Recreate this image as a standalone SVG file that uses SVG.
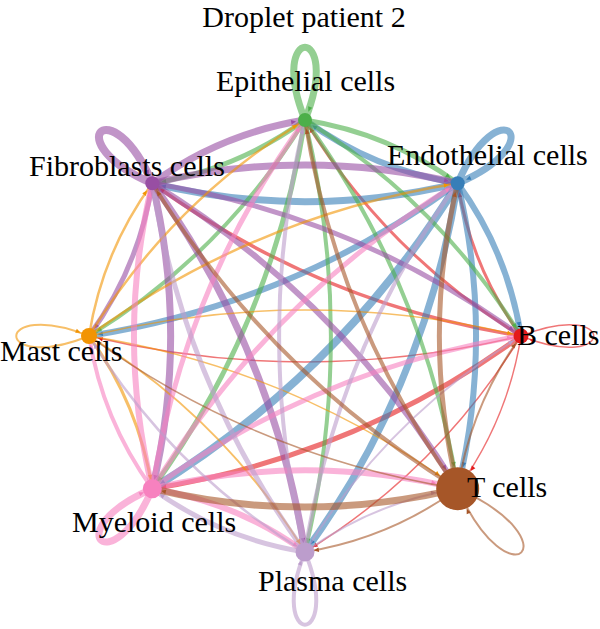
<svg xmlns="http://www.w3.org/2000/svg" width="600" height="629" viewBox="0 0 600 629">
<style>
.e{fill:none;stroke-opacity:0.6;stroke-linecap:butt}
.cB{stroke:#E41A1C}.cEn{stroke:#377EB8}.cEp{stroke:#4DAF4A}.cF{stroke:#984EA3}
.cMa{stroke:#F29403}.cMy{stroke:#F781BF}.cP{stroke:#BC9DCC}.cT{stroke:#A65628}
.lbl{font-family:"Liberation Serif","Times New Roman",serif;font-size:30px;fill:#000}
</style>
<defs>
<marker id="aB" markerUnits="userSpaceOnUse" refX="9" refY="0" orient="auto" overflow="visible"><path d="M0,0L-5,-2.2L-5,2.2Z" fill="#E41A1C"/></marker>
<marker id="aBt" markerUnits="userSpaceOnUse" refX="22" refY="0" orient="auto" overflow="visible"><path d="M0,0L-5,-2.2L-5,2.2Z" fill="#E41A1C"/></marker>
<marker id="aEn" markerUnits="userSpaceOnUse" refX="9" refY="0" orient="auto" overflow="visible"><path d="M0,0L-5,-2.2L-5,2.2Z" fill="#377EB8"/></marker>
<marker id="aEnt" markerUnits="userSpaceOnUse" refX="22" refY="0" orient="auto" overflow="visible"><path d="M0,0L-5,-2.2L-5,2.2Z" fill="#377EB8"/></marker>
<marker id="aEp" markerUnits="userSpaceOnUse" refX="9" refY="0" orient="auto" overflow="visible"><path d="M0,0L-5,-2.2L-5,2.2Z" fill="#4DAF4A"/></marker>
<marker id="aEpt" markerUnits="userSpaceOnUse" refX="22" refY="0" orient="auto" overflow="visible"><path d="M0,0L-5,-2.2L-5,2.2Z" fill="#4DAF4A"/></marker>
<marker id="aF" markerUnits="userSpaceOnUse" refX="9" refY="0" orient="auto" overflow="visible"><path d="M0,0L-5,-2.2L-5,2.2Z" fill="#984EA3"/></marker>
<marker id="aFt" markerUnits="userSpaceOnUse" refX="22" refY="0" orient="auto" overflow="visible"><path d="M0,0L-5,-2.2L-5,2.2Z" fill="#984EA3"/></marker>
<marker id="aMa" markerUnits="userSpaceOnUse" refX="9" refY="0" orient="auto" overflow="visible"><path d="M0,0L-5,-2.2L-5,2.2Z" fill="#F29403"/></marker>
<marker id="aMat" markerUnits="userSpaceOnUse" refX="22" refY="0" orient="auto" overflow="visible"><path d="M0,0L-5,-2.2L-5,2.2Z" fill="#F29403"/></marker>
<marker id="aMy" markerUnits="userSpaceOnUse" refX="9" refY="0" orient="auto" overflow="visible"><path d="M0,0L-5,-2.2L-5,2.2Z" fill="#F781BF"/></marker>
<marker id="aMyt" markerUnits="userSpaceOnUse" refX="22" refY="0" orient="auto" overflow="visible"><path d="M0,0L-5,-2.2L-5,2.2Z" fill="#F781BF"/></marker>
<marker id="aP" markerUnits="userSpaceOnUse" refX="9" refY="0" orient="auto" overflow="visible"><path d="M0,0L-5,-2.2L-5,2.2Z" fill="#BC9DCC"/></marker>
<marker id="aPt" markerUnits="userSpaceOnUse" refX="22" refY="0" orient="auto" overflow="visible"><path d="M0,0L-5,-2.2L-5,2.2Z" fill="#BC9DCC"/></marker>
<marker id="aT" markerUnits="userSpaceOnUse" refX="9" refY="0" orient="auto" overflow="visible"><path d="M0,0L-5,-2.2L-5,2.2Z" fill="#A65628"/></marker>
<marker id="aTt" markerUnits="userSpaceOnUse" refX="22" refY="0" orient="auto" overflow="visible"><path d="M0,0L-5,-2.2L-5,2.2Z" fill="#A65628"/></marker>
</defs>
<rect width="600" height="629" fill="#fff"/>
<g id="edges">
<!-- B cells -->
<g transform="translate(521,336)" class="cB">
<path class="e" marker-end="url(#aB)" stroke-width="3" transform="rotate(-112.5)" d="M0,0Q82.6,-19.8 165.3,0"/>
<path class="e" marker-end="url(#aB)" stroke-width="3" transform="rotate(-135)" d="M0,0Q152.7,-36.7 305.5,0"/>
<path class="e" marker-end="url(#aB)" stroke-width="3.5" transform="rotate(-157.5)" d="M0,0Q199.5,-47.9 399.1,0"/>
<path class="e" marker-end="url(#aB)" stroke-width="1.5" transform="rotate(-180)" d="M0,0Q216,-51.8 432,0"/>
<path class="e" marker-end="url(#aB)" stroke-width="5" transform="rotate(-202.5)" d="M0,0Q199.5,-47.9 399.1,0"/>
<path class="e" marker-end="url(#aB)" stroke-width="1.5" transform="rotate(-225)" d="M0,0Q152.7,-36.7 305.5,0"/>
<path class="e" marker-end="url(#aBt)" stroke-width="1.5" transform="rotate(-247.5)" d="M0,0Q82.6,-19.8 165.3,0"/>
<path class="e" marker-end="url(#aB)" stroke-width="1.5" d="M0,0C97,-39 97,39 0,0"/>
</g>
<!-- Endothelial -->
<g transform="translate(457.7,183.3)" class="cEn">
<path class="e" marker-end="url(#aEn)" stroke-width="6" transform="rotate(-292.5)" d="M0,0Q82.6,-19.8 165.3,0"/>
<path class="e" marker-end="url(#aEn)" stroke-width="6" transform="rotate(-157.5)" d="M0,0Q82.6,-19.8 165.3,0"/>
<path class="e" marker-end="url(#aEn)" stroke-width="7" transform="rotate(-180)" d="M0,0Q152.7,-36.7 305.5,0"/>
<path class="e" marker-end="url(#aEn)" stroke-width="6" transform="rotate(-202.5)" d="M0,0Q199.5,-47.9 399.1,0"/>
<path class="e" marker-end="url(#aEn)" stroke-width="8" transform="rotate(-225)" d="M0,0Q216,-51.8 432,0"/>
<path class="e" marker-end="url(#aEn)" stroke-width="7" transform="rotate(-247.5)" d="M0,0Q199.5,-47.9 399.1,0"/>
<path class="e" marker-end="url(#aEnt)" stroke-width="6" transform="rotate(-270)" d="M0,0Q152.7,-36.7 305.5,0"/>
<path class="e" marker-end="url(#aEn)" stroke-width="7" transform="rotate(-45)" d="M0,0C97,-39 97,39 0,0"/>
</g>
<!-- Epithelial -->
<g transform="translate(305,120)" class="cEp">
<path class="e" marker-end="url(#aEp)" stroke-width="4" transform="rotate(-315)" d="M0,0Q152.7,-36.7 305.5,0"/>
<path class="e" marker-end="url(#aEp)" stroke-width="5" transform="rotate(-337.5)" d="M0,0Q82.6,-19.8 165.3,0"/>
<path class="e" marker-end="url(#aEp)" stroke-width="5" transform="rotate(-202.5)" d="M0,0Q82.6,-19.8 165.3,0"/>
<path class="e" marker-end="url(#aEp)" stroke-width="4" transform="rotate(-225)" d="M0,0Q152.7,-36.7 305.5,0"/>
<path class="e" marker-end="url(#aEp)" stroke-width="5" transform="rotate(-247.5)" d="M0,0Q199.5,-47.9 399.1,0"/>
<path class="e" marker-end="url(#aEp)" stroke-width="4" transform="rotate(-270)" d="M0,0Q216,-51.8 432,0"/>
<path class="e" marker-end="url(#aEpt)" stroke-width="4" transform="rotate(-292.5)" d="M0,0Q199.5,-47.9 399.1,0"/>
<path class="e" marker-end="url(#aEp)" stroke-width="7" transform="rotate(-90)" d="M0,0C97,-39 97,39 0,0"/>
</g>
<!-- Fibroblasts -->
<g transform="translate(152.3,183.3)" class="cF">
<path class="e" marker-end="url(#aF)" stroke-width="5" transform="rotate(-337.5)" d="M0,0Q199.5,-47.9 399.1,0"/>
<path class="e" marker-end="url(#aF)" stroke-width="7" d="M0,0Q152.7,-36.7 305.5,0"/>
<path class="e" marker-end="url(#aF)" stroke-width="7" transform="rotate(-22.5)" d="M0,0Q82.6,-19.8 165.3,0"/>
<path class="e" marker-end="url(#aF)" stroke-width="5" transform="rotate(-247.5)" d="M0,0Q82.6,-19.8 165.3,0"/>
<path class="e" marker-end="url(#aF)" stroke-width="7" transform="rotate(-270)" d="M0,0Q152.7,-36.7 305.5,0"/>
<path class="e" marker-end="url(#aF)" stroke-width="7" transform="rotate(-292.5)" d="M0,0Q199.5,-47.9 399.1,0"/>
<path class="e" marker-end="url(#aFt)" stroke-width="6" transform="rotate(-315)" d="M0,0Q216,-51.8 432,0"/>
<path class="e" marker-end="url(#aF)" stroke-width="8" transform="rotate(-135)" d="M0,0C97,-39 97,39 0,0"/>
</g>
<!-- Mast -->
<g transform="translate(89,336)" class="cMa">
<path class="e" marker-end="url(#aMa)" stroke-width="1.5" d="M0,0Q216,-51.8 432,0"/>
<path class="e" marker-end="url(#aMa)" stroke-width="2.5" transform="rotate(-22.5)" d="M0,0Q199.5,-47.9 399.1,0"/>
<path class="e" marker-end="url(#aMa)" stroke-width="2.5" transform="rotate(-45)" d="M0,0Q152.7,-36.7 305.5,0"/>
<path class="e" marker-end="url(#aMa)" stroke-width="2.5" transform="rotate(-67.5)" d="M0,0Q82.6,-19.8 165.3,0"/>
<path class="e" marker-end="url(#aMa)" stroke-width="3" transform="rotate(-292.5)" d="M0,0Q82.6,-19.8 165.3,0"/>
<path class="e" marker-end="url(#aMa)" stroke-width="2" transform="rotate(-315)" d="M0,0Q152.7,-36.7 305.5,0"/>
<path class="e" marker-end="url(#aMat)" stroke-width="1.5" transform="rotate(-337.5)" d="M0,0Q199.5,-47.9 399.1,0"/>
<path class="e" marker-end="url(#aMa)" stroke-width="2" transform="rotate(-180)" d="M0,0C97,-39 97,39 0,0"/>
</g>
<!-- Myeloid -->
<g transform="translate(152.3,488.7)" class="cMy">
<path class="e" marker-end="url(#aMy)" stroke-width="5" transform="rotate(-22.5)" d="M0,0Q199.5,-47.9 399.1,0"/>
<path class="e" marker-end="url(#aMy)" stroke-width="5" transform="rotate(-45)" d="M0,0Q216,-51.8 432,0"/>
<path class="e" marker-end="url(#aMy)" stroke-width="5" transform="rotate(-67.5)" d="M0,0Q199.5,-47.9 399.1,0"/>
<path class="e" marker-end="url(#aMy)" stroke-width="6" transform="rotate(-90)" d="M0,0Q152.7,-36.7 305.5,0"/>
<path class="e" marker-end="url(#aMy)" stroke-width="4" transform="rotate(-112.5)" d="M0,0Q82.6,-19.8 165.3,0"/>
<path class="e" marker-end="url(#aMy)" stroke-width="6" transform="rotate(-337.5)" d="M0,0Q82.6,-19.8 165.3,0"/>
<path class="e" marker-end="url(#aMyt)" stroke-width="6" d="M0,0Q152.7,-36.7 305.5,0"/>
<path class="e" marker-end="url(#aMy)" stroke-width="7" transform="rotate(-225)" d="M0,0C97,-39 97,39 0,0"/>
</g>
<!-- Plasma -->
<g transform="translate(305,552)" class="cP">
<path class="e" marker-end="url(#aP)" stroke-width="2" transform="rotate(-45)" d="M0,0Q152.7,-36.7 305.5,0"/>
<path class="e" marker-end="url(#aP)" stroke-width="4" transform="rotate(-67.5)" d="M0,0Q199.5,-47.9 399.1,0"/>
<path class="e" marker-end="url(#aP)" stroke-width="4" transform="rotate(-90)" d="M0,0Q216,-51.8 432,0"/>
<path class="e" marker-end="url(#aP)" stroke-width="5" transform="rotate(-112.5)" d="M0,0Q199.5,-47.9 399.1,0"/>
<path class="e" marker-end="url(#aP)" stroke-width="2.5" transform="rotate(-135)" d="M0,0Q152.7,-36.7 305.5,0"/>
<path class="e" marker-end="url(#aP)" stroke-width="5" transform="rotate(-157.5)" d="M0,0Q82.6,-19.8 165.3,0"/>
<path class="e" marker-end="url(#aPt)" stroke-width="2" transform="rotate(-22.5)" d="M0,0Q82.6,-19.8 165.3,0"/>
<path class="e" marker-end="url(#aP)" stroke-width="4" transform="rotate(-270)" d="M0,0C97,-39 97,39 0,0"/>
</g>
<!-- T cells -->
<g transform="translate(457.7,488.7)" class="cT">
<path class="e" marker-end="url(#aT)" stroke-width="2" transform="rotate(-67.5)" d="M0,0Q82.6,-19.8 165.3,0"/>
<path class="e" marker-end="url(#aT)" stroke-width="5" transform="rotate(-90)" d="M0,0Q152.7,-36.7 305.5,0"/>
<path class="e" marker-end="url(#aT)" stroke-width="4" transform="rotate(-112.5)" d="M0,0Q199.5,-47.9 399.1,0"/>
<path class="e" marker-end="url(#aT)" stroke-width="4" transform="rotate(-135)" d="M0,0Q216,-51.8 432,0"/>
<path class="e" marker-end="url(#aT)" stroke-width="1.5" transform="rotate(-157.5)" d="M0,0Q199.5,-47.9 399.1,0"/>
<path class="e" marker-end="url(#aT)" stroke-width="7" transform="rotate(-180)" d="M0,0Q152.7,-36.7 305.5,0"/>
<path class="e" marker-end="url(#aT)" stroke-width="2" transform="rotate(-202.5)" d="M0,0Q82.6,-19.8 165.3,0"/>
<path class="e" marker-end="url(#aTt)" stroke-width="2" transform="rotate(45)" d="M0,0C120,-46 120,46 0,0"/>
</g>
</g>
<g id="node-b"><circle cx="521" cy="336" r="7.5" fill="#E41A1C"/><text class="lbl" x="517" y="345">B cells</text></g>
<g id="node-endothelial"><circle cx="457.7" cy="183.3" r="7" fill="#377EB8"/><text class="lbl" x="387" y="165">Endothelial cells</text></g>
<g id="node-epithelial"><circle cx="305" cy="120" r="7" fill="#4DAF4A"/><text class="lbl" x="216" y="91">Epithelial cells</text></g>
<g id="node-fibroblasts"><circle cx="152.3" cy="183.3" r="7" fill="#984EA3"/><text class="lbl" x="29" y="176">Fibroblasts cells</text></g>
<g id="node-mast"><circle cx="89" cy="336" r="8" fill="#F29403"/><text class="lbl" x="0" y="361">Mast cells</text></g>
<g id="node-myeloid"><circle cx="152.3" cy="488.7" r="9.5" fill="#F781BF"/><text class="lbl" x="72" y="532">Myeloid cells</text></g>
<g id="node-plasma"><circle cx="305" cy="552" r="9.5" fill="#BC9DCC"/><text class="lbl" x="258" y="591">Plasma cells</text></g>
<g id="node-t"><circle cx="457.7" cy="488.7" r="21.5" fill="#A65628"/><text class="lbl" x="467" y="497">T cells</text></g>
<text class="lbl" x="304" y="27" text-anchor="middle">Droplet patient 2</text>
</svg>
